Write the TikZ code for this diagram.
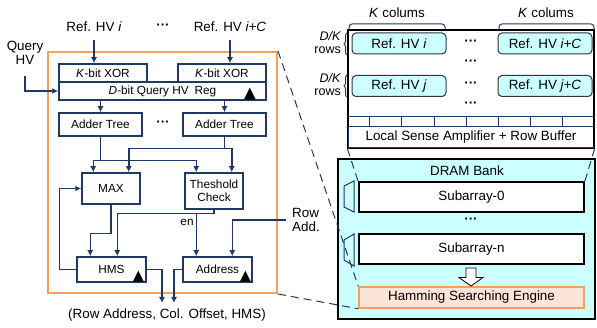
\documentclass[tikz,border=0pt]{standalone}
\usepackage{fontspec}
\setmainfont{Liberation Sans}
\usetikzlibrary{arrows.meta,decorations.pathreplacing,calc}
\definecolor{navy}{RGB}{31,56,100}
\definecolor{orng}{RGB}{247,160,90}
\definecolor{cyanl}{RGB}{204,255,255}
\definecolor{hsefill}{RGB}{252,228,214}
\newcommand{\mydots}{{\bfseries ···}}
\begin{document}
\begin{tikzpicture}[x=1pt,y=-1pt,
  blk/.style={draw=navy, line width=1.5pt, fill=white, inner sep=0pt, align=center, font=\fontsize{11.8}{13.5}\selectfont},
  arr/.style={navy, line width=1.5pt, -{Latex[length=6pt,width=6pt]}},
  ln/.style={navy, line width=1.5pt},
  lbl/.style={font=\fontsize{13.4}{14}\selectfont, inner sep=0pt, align=center},
  hvbox/.style={draw=black!80, line width=1pt, fill=cyanl, rounded corners=4pt, minimum width=94pt, minimum height=21pt, inner sep=0pt, font=\fontsize{13.4}{15}\selectfont},
  zoomln/.style={navy, line width=1pt, dash pattern=on 8pt off 5pt},
  clk/.style={fill=black},
  thin/.style={navy, line width=1pt}]
\useasboundingbox (0,0) rectangle (597,328);

% ---------- left engine ----------
\node[draw=orng, line width=2pt, minimum width=229pt, minimum height=241pt, inner sep=0pt] (eng) at (162.5,172.5) {};

\node[lbl] (refi) at (94,27) {Ref. HV \textit{i}};
\node[lbl] (dotsA) at (163,27) {\mydots};
\node[lbl] (refc) at (230,27) {Ref. HV \textit{i+C}};
\node[lbl] (qhv) at (25,53) {Query\\HV};

\node[blk, minimum width=88pt, minimum height=18pt] (xorL) at (103,73) {\textit{K}-bit XOR};
\node[blk, minimum width=88pt, minimum height=18pt] (xorR) at (222,73) {\textit{K}-bit XOR};
\node[blk, minimum width=207pt, minimum height=18pt] (reg) at (162.5,91) {\textit{D}-bit Query HV\enspace Reg};
\node[blk, minimum width=83pt, minimum height=23pt] (addL) at (100.5,124.5) {Adder Tree};
\node[blk, minimum width=83pt, minimum height=23pt] (addR) at (224.5,124.5) {Adder Tree};
\node[lbl] (dotsB) at (163,124) {\mydots};
\node[blk, minimum width=58pt, minimum height=31pt] (max) at (111,188.5) {MAX};
\node[blk, minimum width=58pt, minimum height=36pt] (thr) at (214,191) {Theshold\\Check};
\node[blk, minimum width=69pt, minimum height=25pt] (hms) at (111.5,269.5) {HMS};
\node[blk, minimum width=69pt, minimum height=25pt] (addr) at (217.5,269.5) {Address};
\node[lbl, font=\fontsize{11.8}{13}\selectfont] (en) at (187,222) {en};
\node[lbl, anchor=west, align=left] (rowadd) at (292,220) {Row\\Add.};
\node[lbl, anchor=north] (out) at (167,309) {(Row Address, Col. Offset, HMS)};

% clock triangles
\fill[clk] ([shift={(-23,-1)}]reg.south east) -- ++(12,0) -- ++(-6,-12) -- cycle;
\fill[clk] ([shift={(-14,-1)}]hms.south east) -- ++(11,0) -- ++(-5.5,-11) -- cycle;
\fill[clk] ([shift={(-13,-1)}]addr.south east) -- ++(11,0) -- ++(-5.5,-11) -- cycle;

% connectors
\draw[arr] ([yshift=-8pt]refi.south) -- (refi.south |- xorL.north);
\draw[arr] ([yshift=-8pt]refc.south) -- (refc.south |- xorR.north);
\draw[arr] ([yshift=-11pt]qhv.south) |- (reg.west);
\draw[arr] (addL.north |- reg.south) -- (addL.north);
\draw[arr] (addR.north |- reg.south) -- (addR.north);
\draw[arr] (addL.south) -- ++(0,24) -| ([xshift=12pt]max.north west);
\draw[arr] (addL.south) -- ++(0,24) -| ([xshift=12pt]thr.north west);
\draw[arr] (addR.south) -- ++(0,12) -| ([xshift=-12pt]max.north east);
\draw[arr] (addR.south) -- ++(0,12) -| ([xshift=-12pt]thr.north east);
\draw[arr] (max.south) -- ++(0,29) -| ([xshift=14pt]hms.north west);
\draw[arr] (thr.south) -- ++(0,4) -| ([xshift=41pt]hms.north west);
\draw[arr] (thr.south) -- ++(0,4) -| ([xshift=14pt]addr.north west);
\draw[arr] ([xshift=-6pt]rowadd.west) -| ([xshift=50pt]addr.north west);
\draw[arr] (hms.west) -- ++(-17,0) |- (max.west);
\draw[arr] (hms.east) -| ([xshift=-5pt,yshift=6pt]out.north);
\draw[arr] (addr.west) -| ([xshift=7pt,yshift=6pt]out.north);

% ---------- memory array ----------
\node[lbl] (kc1) at (397,13) {\textit{K} colums};
\node[lbl] (kc2) at (546,13) {\textit{K} colums};
\draw[thin, rounded corners=3pt] (349,29) -- (349,24) -- (445,24) -- (445,29);
\draw[thin, rounded corners=3pt] (499,29) -- (499,24) -- (594,24) -- (594,29);

\node[draw=black, line width=1.3pt, minimum width=246pt, minimum height=118pt, inner sep=0pt, fill=white] (mem) at (471,89) {};
\node[hvbox] (hvi) at (399,43.5) {Ref. HV \textit{i}};
\node[hvbox] (hvic) at (545,43.5) {Ref. HV \textit{i+C}};
\node[hvbox] (hvj) at (399,86) {Ref. HV \textit{j}};
\node[hvbox] (hvjc) at (545,86) {Ref. HV \textit{j+C}};
\node[lbl] (d1) at (471,43) {\mydots};
\node[lbl] (d2) at (471,63) {\mydots};
\node[lbl] (d3) at (471,85) {\mydots};
\node[lbl] (d4) at (471,105) {\mydots};

\node[lbl, font=\fontsize{12.5}{13}\selectfont, anchor=east, align=right] (dk1) at (341,43) {\textit{D/K}\\rows};
\node[lbl, font=\fontsize{12.5}{13}\selectfont, anchor=east, align=right] (dk2) at (341,85) {\textit{D/K}\\rows};
\draw[thin, decorate, decoration={brace, amplitude=3pt}] (347,55) -- (347,33);
\draw[thin, decorate, decoration={brace, amplitude=3pt}] (347,97) -- (347,75);

\draw[thin] (348,117) -- (594,117);
\foreach \cx in {369,401.7,434,466.7,498.3,530,562.7}
  \draw[thin] (\cx,117) -- (\cx,127);
\node[draw=navy, line width=1pt, minimum width=246pt, minimum height=21pt, inner sep=0pt, font=\fontsize{13.4}{15}\selectfont] (lsa) at (471,137.5) {Local Sense Amplifier + Row Buffer};
\draw[black, line width=1.3pt] (mem.north west) rectangle (mem.south east);

% ---------- DRAM bank ----------
\node[draw=black, line width=2pt, fill=cyanl, minimum width=257pt, minimum height=160pt, inner sep=0pt] (bank) at (466.5,239) {};
\node[lbl] (banklbl) at (467,171) {DRAM Bank};
\node[draw=black, line width=2pt, fill=white, minimum width=225pt, minimum height=30pt, inner sep=0pt, font=\fontsize{13.4}{15}\selectfont] (sub0) at (471.5,197) {Subarray-0};
\node[lbl] (d5) at (471,221) {\mydots};
\node[draw=black, line width=2pt, fill=white, minimum width=225pt, minimum height=30pt, inner sep=0pt, font=\fontsize{13.4}{15}\selectfont] (subn) at (471.5,249) {Subarray-n};
\node[draw=orng, line width=1.5pt, fill=hsefill, minimum width=225pt, minimum height=21pt, inner sep=0pt, font=\fontsize{13.4}{15}\selectfont] (hse) at (471.5,297.5) {Hamming Searching Engine};
\draw[thin, fill=cyanl] (344,186) -- (344,207) -- (354,212) -- (354,181) -- cycle;
\draw[thin, fill=cyanl] (344,240) -- (344,260) -- (354,266) -- (354,234) -- cycle;
\draw[black, line width=0.8pt, fill=white] (466,268) -- (476,268) -- (476,277.5) -- (483,277.5) -- (471,286) -- (459,277.5) -- (466,277.5) -- cycle;

% ---------- zoom lines ----------
\draw[zoomln] (eng.north east) -- (hse.north west);
\draw[zoomln] (eng.south east) -- (hse.south west);
\draw[zoomln] (mem.south west) -- (sub0.north west);
\draw[zoomln] (mem.south east) -- (sub0.north east);
\end{tikzpicture}
\end{document}
